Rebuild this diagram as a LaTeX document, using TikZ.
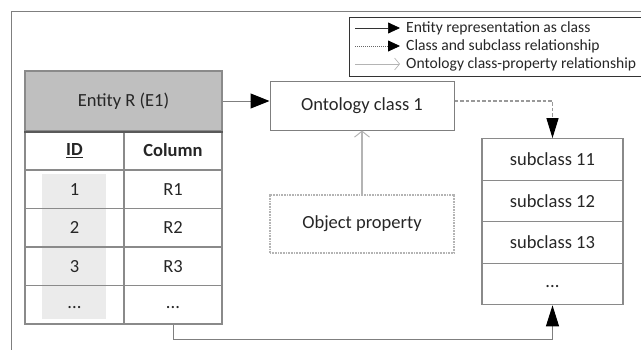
\documentclass[tikz,border=0pt]{standalone}
\usepackage{fontspec}
\setmainfont{Carlito}
\usetikzlibrary{arrows.meta}
\definecolor{frame}{HTML}{7F7F7F}
\definecolor{tbl}{HTML}{8A8A8A}
\definecolor{hdr}{HTML}{BFBFBF}
\definecolor{idshade}{HTML}{EBEBEB}
\definecolor{light}{HTML}{B4B4B4}
\tikzset{
  mainfont/.style={font=\fontsize{18.5}{22}\selectfont},
  cell/.style={draw=tbl, line width=1.2pt, inner sep=0pt, mainfont, text=black!85},
  box/.style={draw=frame, line width=1pt, inner sep=0pt, mainfont, text=black!85},
  legtext/.style={font=\fontsize{15.6}{18}\selectfont, anchor=west, inner sep=0pt, text=black!85},
  solidarrow/.style={draw=frame, line width=1pt, -{Triangle[length=19pt,width=15pt,fill=black,color=black]}},
  dasharrow/.style={draw=light!85!black, line width=1.2pt, dash pattern=on 3.5pt off 2pt, -{Triangle[length=20pt,width=12pt,fill=black,color=black]}},
  proparrow/.style={draw=light, line width=1.3pt, -{Straight Barb[length=6pt,width=15pt,line width=1pt]}},
}
\begin{document}
\begin{tikzpicture}[x=1pt,y=-1pt]
\useasboundingbox (0,0) rectangle (641,349);
% outer frame
\draw[frame, line width=1pt] (11,360) -- (11,11) -- (660,11);
% legend
\draw[black!80, line width=0.8pt] (349,17) rectangle (670,76);
\coordinate (l1a) at (355,28); \coordinate (l1b) at (400,28);
\coordinate (l2a) at (355,46); \coordinate (l2b) at (400,46);
\coordinate (l3a) at (355,64); \coordinate (l3b) at (400,64);
\draw[draw=black!80, line width=0.7pt, -{Triangle[length=12pt,width=11pt,fill=black,color=black]}] (l1a) -- (l1b);
\draw[draw=black!60, line width=0.8pt, dash pattern=on 1pt off 1pt, -{Triangle[length=12pt,width=11pt,fill=black,color=black]}] (l2a) -- (l2b);
\draw[draw=light, line width=0.8pt, -{Straight Barb[length=5pt,width=12pt,line width=0.7pt]}] (l3a) -- (l3b);
\node[legtext] (t1) at (406,28) {Entity representation as class};
\node[legtext] (t2) at (406,46) {Class and subclass relationship};
\node[legtext] (t3) at (406,64) {Ontology class-property relationship};
% shading of ID column
\fill[idshade] (42,174) rectangle (106,319);
% entity table
\node[cell, fill=hdr, minimum width=197pt, minimum height=60pt] (head) at (123.5,101) {Entity R (E1)};
\node[cell, minimum width=99pt, minimum height=39pt] (idh) at (74.5,150.5) {\textbf{\underline{ID}}};
\node[cell, minimum width=98pt, minimum height=39pt] (colh) at (173,150.5) {\textbf{Column}};
\foreach \i/\y/\a/\b in {1/189.25/1/R1, 2/227.75/2/R2, 3/266.25/3/R3} {
  \node[cell, minimum width=99pt, minimum height=38.5pt] (id\i) at (74.5,\y) {\raisebox{-2pt}{\a}};
  \node[cell, minimum width=98pt, minimum height=38.5pt] (c\i) at (173,\y) {\b};
}
\node[cell, minimum width=99pt, minimum height=38.5pt] (id4) at (74.5,304.75) {\raisebox{-7pt}{...}};
\node[cell, minimum width=98pt, minimum height=38.5pt] (c4) at (173,304.75) {\raisebox{-7pt}{...}};
\draw[black!65, line width=2pt] (head.south west) -- (head.south east);
% ontology class and object property
\node[box, minimum width=184pt, minimum height=49pt] (ont) at (362,105.5) {Ontology class 1};
\node[draw=light, line width=1.3pt, dash pattern=on 1pt off 0.6pt, inner sep=0pt, mainfont, text=black!85, minimum width=184pt, minimum height=58pt] (obj) at (362,224) {Object property};
% subclass table
\node[cell, minimum width=141pt, minimum height=41.5pt] (s1) at (552.5,159.5) {subclass 11};
\node[cell, minimum width=141pt, minimum height=41.5pt] (s2) at (552.5,201) {subclass 12};
\node[cell, minimum width=141pt, minimum height=41.5pt] (s3) at (552.5,242.5) {subclass 13};
\node[cell, minimum width=141pt, minimum height=41.5pt] (s4) at (552.5,284) {\raisebox{-7pt}{...}};
% connectors
\draw[solidarrow] (head.east) -- (head.east -| ont.west);
\draw[dasharrow] (ont.east |- head.east) -| (s1.north);
\draw[proparrow] (obj.north) -- (ont.south);
\draw[solidarrow, -{Triangle[length=21pt,width=13pt,fill=black,color=black]}] (c4.south) -- ++(0,15) -| (s4.south);
\end{tikzpicture}
\end{document}
